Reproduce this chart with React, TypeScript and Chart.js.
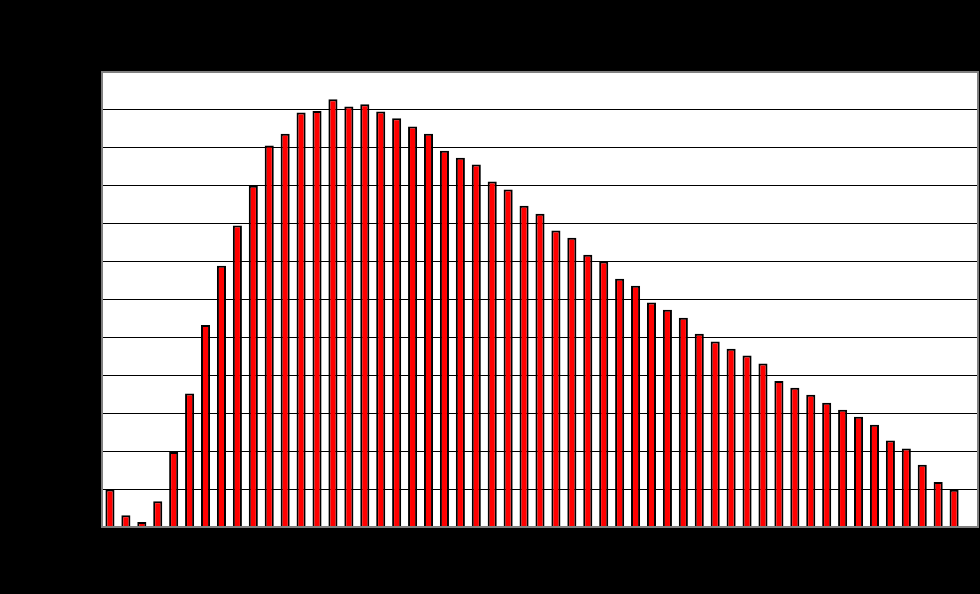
import React, { useEffect, useRef } from "react";
import { Chart, registerables } from "chart.js";

Chart.register(...registerables);

const categories: string[] = Array.from({ length: 55 }, (_, i) => String(i + 1));

const values: (number | null)[] = [
  0.99, 0.31, 0.13, 0.68, 1.98, 3.52, 5.33, 6.89, 7.95, 9.0,
  10.06, 10.37, 10.93, 10.97, 11.28, 11.09, 11.15, 10.96, 10.78, 10.56,
  10.37, 9.92, 9.74, 9.56, 9.11, 8.9, 8.47, 8.26, 7.82, 7.63,
  7.18, 7.0, 6.55, 6.36, 5.92, 5.73, 5.52, 5.1, 4.89, 4.7,
  4.52, 4.31, 3.85, 3.67, 3.49, 3.28, 3.09, 2.91, 2.7, 2.28,
  2.07, 1.64, 1.19, 0.98, null,
];

const yMin = 0;
const yMax = 12;
const yStep = 1;

const plotFramePlugin = {
  id: "plotFrame",
  beforeDraw(chart: any) {
    const { ctx, chartArea } = chart;
    ctx.save();
    ctx.fillStyle = "#000000";
    ctx.fillRect(0, 0, chart.width, chart.height);
    ctx.fillStyle = "#ffffff";
    ctx.fillRect(chartArea.left, chartArea.top, chartArea.right - chartArea.left, chartArea.bottom - chartArea.top);
    ctx.restore();
  },
  afterDraw(chart: any) {
    const { ctx, chartArea } = chart;
    ctx.save();
    ctx.strokeStyle = "#808080";
    ctx.lineWidth = 2;
    ctx.strokeRect(chartArea.left, chartArea.top, chartArea.right - chartArea.left, chartArea.bottom - chartArea.top);
    ctx.restore();
  },
};

export default function App() {
  const ref = useRef<HTMLCanvasElement | null>(null);
  useEffect(() => {
    document.body.style.margin = "0";
    document.body.style.background = "#000";
    if (!ref.current) return;
    const chart = new Chart(ref.current, {
      type: "bar",
      data: {
        labels: categories,
        datasets: [
          {
            data: values,
            backgroundColor: "#ff0000",
            borderColor: "#000000",
            borderWidth: 2,
            categoryPercentage: 1,
            barPercentage: 0.57,
          },
        ],
      },
      options: {
        responsive: false,
        animation: false,
        layout: { padding: { left: 102, top: 72, right: 2, bottom: 67 } },
        plugins: { legend: { display: false }, tooltip: { enabled: false } },
        scales: {
          x: {
            offset: true,
            grid: { display: false, drawTicks: false },
            border: { display: false },
            ticks: { display: false },
          },
          y: {
            min: yMin,
            max: yMax,
            ticks: { display: false, stepSize: yStep },
            grid: { color: "#000000", lineWidth: 1, drawTicks: false },
            border: { display: false },
          },
        },
      },
      plugins: [plotFramePlugin],
    });
    return () => chart.destroy();
  }, []);
  return (
    <div style={{ width: 980, height: 594, background: "#000" }}>
      <canvas ref={ref} width={980} height={594} style={{ display: "block" }} />
    </div>
  );
}
